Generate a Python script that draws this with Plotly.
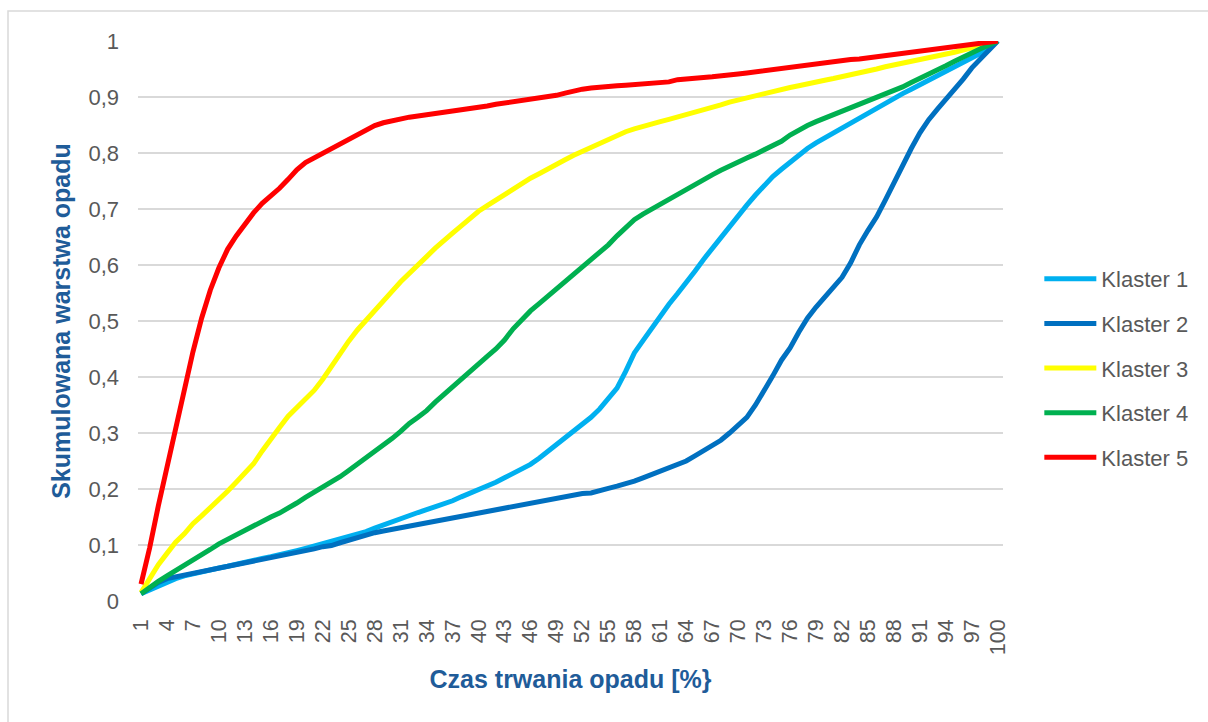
import plotly.graph_objects as go

x_vals = list(range(1, 101))
tick_vals = list(range(1, 101, 3))

series_names = ["Klaster 1", "Klaster 2", "Klaster 3", "Klaster 4", "Klaster 5"]
series_colors = ["#00B0F0", "#0070C0", "#FFFF00", "#00B050", "#FF0000"]

klaster1 = [0.013, 0.020, 0.027, 0.034, 0.040, 0.045, 0.049, 0.053, 0.056, 0.059,
            0.062, 0.066, 0.070, 0.073, 0.076, 0.079, 0.082, 0.086, 0.090, 0.094,
            0.098, 0.102, 0.106, 0.110, 0.114, 0.119, 0.124, 0.130, 0.136, 0.142,
            0.148, 0.153, 0.158, 0.163, 0.168, 0.173, 0.179, 0.186, 0.192, 0.198,
            0.205, 0.212, 0.220, 0.228, 0.236, 0.244, 0.255, 0.267, 0.279, 0.291,
            0.302, 0.314, 0.328, 0.343, 0.360, 0.380, 0.410, 0.443, 0.465, 0.487,
            0.508, 0.530, 0.549, 0.568, 0.589, 0.610, 0.630, 0.648, 0.668, 0.689,
            0.707, 0.725, 0.743, 0.758, 0.771, 0.784, 0.797, 0.808, 0.818, 0.827,
            0.836, 0.845, 0.854, 0.862, 0.870, 0.879, 0.889, 0.898, 0.906, 0.914,
            0.922, 0.930, 0.938, 0.946, 0.953, 0.961, 0.969, 0.978, 0.989, 1.000]

klaster2 = [0.013, 0.024, 0.033, 0.040, 0.043, 0.046, 0.049, 0.052, 0.055, 0.058,
            0.061, 0.064, 0.067, 0.070, 0.073, 0.076, 0.079, 0.082, 0.086, 0.089,
            0.093, 0.097, 0.099, 0.104, 0.109, 0.114, 0.118, 0.122, 0.125, 0.128,
            0.131, 0.134, 0.137, 0.140, 0.143, 0.146, 0.149, 0.152, 0.155, 0.158,
            0.161, 0.164, 0.167, 0.170, 0.173, 0.176, 0.179, 0.182, 0.185, 0.188,
            0.190, 0.192, 0.193, 0.196, 0.201, 0.205, 0.209, 0.214, 0.220, 0.226,
            0.231, 0.236, 0.243, 0.250, 0.259, 0.268, 0.277, 0.287, 0.300, 0.314,
            0.328, 0.350, 0.375, 0.402, 0.430, 0.452, 0.480, 0.505, 0.525, 0.543,
            0.561, 0.578, 0.604, 0.636, 0.662, 0.686, 0.716, 0.748, 0.776, 0.808,
            0.836, 0.859, 0.878, 0.895, 0.912, 0.932, 0.952, 0.968, 0.985, 1.000]

klaster3 = [0.015, 0.040, 0.065, 0.085, 0.105, 0.120, 0.138, 0.152, 0.166, 0.180,
            0.196, 0.212, 0.228, 0.245, 0.268, 0.290, 0.310, 0.330, 0.346, 0.360,
            0.376, 0.396, 0.420, 0.442, 0.464, 0.484, 0.502, 0.520, 0.536, 0.553,
            0.570, 0.586, 0.600, 0.615, 0.630, 0.645, 0.657, 0.670, 0.683, 0.696,
            0.706, 0.716, 0.726, 0.736, 0.746, 0.755, 0.763, 0.772, 0.780, 0.788,
            0.796, 0.803, 0.811, 0.819, 0.826, 0.833, 0.838, 0.843, 0.848, 0.852,
            0.856, 0.860, 0.864, 0.868, 0.872, 0.876, 0.881, 0.886, 0.891, 0.895,
            0.899, 0.903, 0.906, 0.910, 0.913, 0.917, 0.920, 0.924, 0.927, 0.930,
            0.933, 0.936, 0.939, 0.942, 0.946, 0.950, 0.954, 0.957, 0.960, 0.963,
            0.966, 0.969, 0.973, 0.977, 0.980, 0.984, 0.988, 0.992, 0.996, 1.000]

klaster4 = [0.013, 0.025, 0.035, 0.045, 0.054, 0.064, 0.074, 0.083, 0.092, 0.102,
            0.110, 0.119, 0.128, 0.136, 0.143, 0.150, 0.157, 0.165, 0.175, 0.185,
            0.194, 0.203, 0.212, 0.222, 0.233, 0.244, 0.256, 0.268, 0.279, 0.290,
            0.303, 0.317, 0.328, 0.340, 0.355, 0.369, 0.383, 0.396, 0.410, 0.424,
            0.437, 0.450, 0.466, 0.486, 0.503, 0.518, 0.531, 0.544, 0.557, 0.571,
            0.584, 0.596, 0.608, 0.621, 0.636, 0.652, 0.668, 0.681, 0.691, 0.700,
            0.708, 0.717, 0.725, 0.734, 0.743, 0.752, 0.761, 0.769, 0.777, 0.784,
            0.791, 0.798, 0.806, 0.813, 0.821, 0.832, 0.841, 0.849, 0.856, 0.862,
            0.869, 0.875, 0.881, 0.887, 0.893, 0.899, 0.905, 0.911, 0.918, 0.926,
            0.933, 0.941, 0.948, 0.956, 0.964, 0.972, 0.979, 0.986, 0.993, 1.000]

klaster5 = [0.030, 0.095, 0.170, 0.240, 0.315, 0.385, 0.445, 0.505, 0.555, 0.595,
            0.628, 0.652, 0.673, 0.693, 0.710, 0.723, 0.737, 0.753, 0.770, 0.783,
            0.791, 0.799, 0.808, 0.816, 0.824, 0.832, 0.840, 0.849, 0.854, 0.858,
            0.861, 0.864, 0.866, 0.868, 0.870, 0.872, 0.874, 0.877, 0.880, 0.882,
            0.884, 0.887, 0.889, 0.891, 0.893, 0.895, 0.897, 0.900, 0.903, 0.907,
            0.911, 0.914, 0.916, 0.918, 0.919, 0.920, 0.921, 0.922, 0.923, 0.924,
            0.925, 0.927, 0.931, 0.933, 0.934, 0.935, 0.936, 0.937, 0.939, 0.941,
            0.943, 0.945, 0.947, 0.949, 0.952, 0.954, 0.957, 0.959, 0.961, 0.963,
            0.965, 0.966, 0.967, 0.968, 0.970, 0.972, 0.974, 0.976, 0.978, 0.980,
            0.982, 0.984, 0.985, 0.987, 0.989, 0.991, 0.993, 0.995, 0.998, 1.000]

all_series = [klaster1, klaster2, klaster3, klaster4, klaster5]

y_tick_vals = [0, 0.1, 0.2, 0.3, 0.4, 0.5, 0.6, 0.7, 0.8, 0.9, 1]

x_title = "Czas trwania opadu [%}"
y_title = "Skumulowana warstwa opadu"

FONT = "Liberation Sans, Arial, sans-serif"
GRAY = "#595959"
TITLE_BLUE = "#1F5C99"

fig = go.Figure()
for name, color, vals in zip(series_names, series_colors, all_series):
    fig.add_trace(go.Scatter(
        x=x_vals, y=vals, name=name, mode="lines",
        line=dict(color=color, width=5),
        legendgroup=name,
    ))

L, R, T, B = 138, 205, 41, 121
fig.update_layout(
    width=1208, height=722,
    margin=dict(l=L, r=R, t=T, b=B),
    paper_bgcolor="white", plot_bgcolor="white",
    separators=", ",
    font=dict(family=FONT, color=GRAY, size=22),
    showlegend=True,
    legend=dict(
        x=1.042, xanchor="left", y=0.416, yanchor="middle",
        font=dict(size=22, color=GRAY, family=FONT),
        tracegroupgap=13,
        itemwidth=52,
        bgcolor="rgba(0,0,0,0)",
    ),
    xaxis=dict(
        range=[0.65, 100.6],
        tickmode="array", tickvals=tick_vals,
        ticktext=[str(v) for v in tick_vals],
        tickangle=-90,
        showgrid=False, zeroline=False, showline=False,
        ticks="", ticklabelstandoff=13,
        tickfont=dict(size=21.5, color=GRAY, family=FONT),
        title=dict(text=x_title, standoff=16,
                   font=dict(size=25, color=TITLE_BLUE, family=FONT, weight="bold")),
    ),
    yaxis=dict(
        range=[0, 1],
        tickmode="array", tickvals=y_tick_vals,
        showgrid=True, gridcolor="#D9D9D9", gridwidth=1.5,
        zeroline=False, showline=False,
        ticks="", ticklabelstandoff=18,
        tickfont=dict(size=22, color=GRAY, family=FONT),
        title=dict(text=y_title, standoff=10,
                   font=dict(size=25, color=TITLE_BLUE, family=FONT, weight="bold")),
    ),
)

# outer chart border (Excel chart area)
W = 1208 - L - R
H = 722 - T - B
def px_x(p):
    return (p - L) / W
def px_y(p):
    return (722 - B - p) / H
fig.add_shape(type="rect", xref="paper", yref="paper",
              x0=px_x(8), x1=px_x(1220), y0=px_y(735), y1=px_y(11),
              line=dict(color="#D9D9D9", width=1.5), fillcolor="rgba(0,0,0,0)", layer="below")

fig.write_html("out.html")
